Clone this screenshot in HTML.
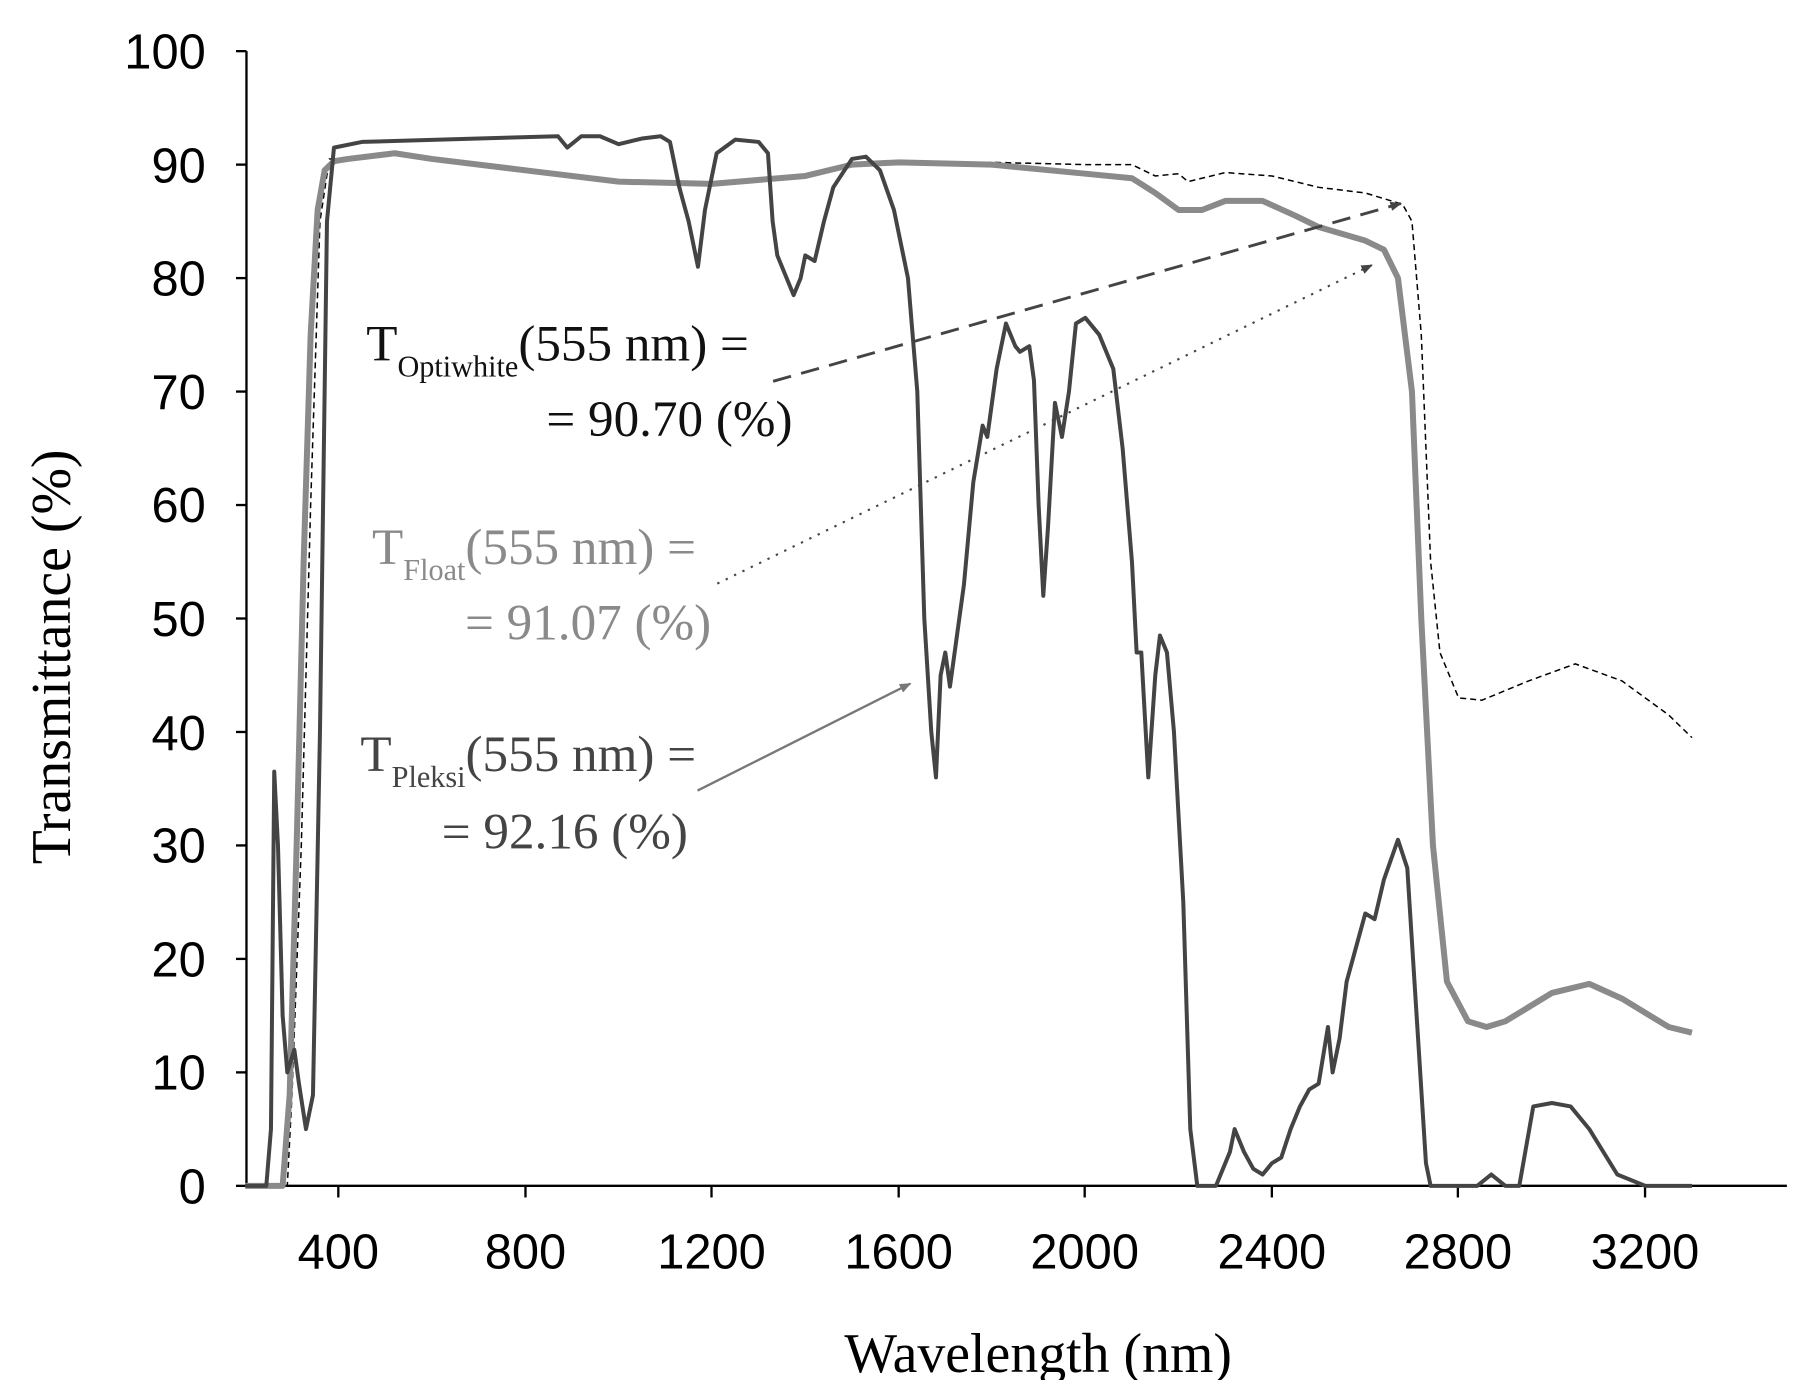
<!DOCTYPE html>
<html><head><style>html,body{margin:0;padding:0;background:#fff}svg{display:block}</style></head><body>
<svg width="1802" height="1380" viewBox="0 0 1550 1187" preserveAspectRatio="none" xmlns="http://www.w3.org/2000/svg">
<defs>
<marker id="ah" markerWidth="10" markerHeight="8" refX="9" refY="4" orient="auto" markerUnits="userSpaceOnUse"><path d="M0,0 L10,4 L0,8 z" fill="#444"/></marker>
<marker id="ah2" markerWidth="10" markerHeight="8" refX="9" refY="4" orient="auto" markerUnits="userSpaceOnUse"><path d="M0,0 L10,4 L0,8 z" fill="#777"/></marker>
</defs>
<g stroke="#000" stroke-width="2" fill="none">
<line x1="212" y1="44" x2="212" y2="1021"/>
<line x1="211" y1="1020" x2="1537" y2="1020"/>
</g>
<g stroke="#000" stroke-width="2">
<line x1="203" y1="44" x2="212" y2="44"/><line x1="203" y1="141.6" x2="212" y2="141.6"/><line x1="203" y1="239.2" x2="212" y2="239.2"/><line x1="203" y1="336.8" x2="212" y2="336.8"/><line x1="203" y1="434.4" x2="212" y2="434.4"/><line x1="203" y1="532" x2="212" y2="532"/><line x1="203" y1="629.6" x2="212" y2="629.6"/><line x1="203" y1="727.2" x2="212" y2="727.2"/><line x1="203" y1="824.8" x2="212" y2="824.8"/><line x1="203" y1="922.4" x2="212" y2="922.4"/><line x1="203" y1="1020" x2="212" y2="1020"/>
<line x1="291" y1="1020" x2="291" y2="1030"/><line x1="452" y1="1020" x2="452" y2="1030"/><line x1="612" y1="1020" x2="612" y2="1030"/><line x1="773" y1="1020" x2="773" y2="1030"/><line x1="933" y1="1020" x2="933" y2="1030"/><line x1="1094" y1="1020" x2="1094" y2="1030"/><line x1="1254" y1="1020" x2="1254" y2="1030"/><line x1="1415" y1="1020" x2="1415" y2="1030"/>
</g>
<g font-family="Liberation Sans, sans-serif" font-size="42" fill="#000" text-anchor="end">
<text x="177" y="59">100</text><text x="177" y="157">90</text><text x="177" y="254">80</text><text x="177" y="352">70</text><text x="177" y="449">60</text><text x="177" y="547">50</text><text x="177" y="645">40</text><text x="177" y="742">30</text><text x="177" y="840">20</text><text x="177" y="937">10</text><text x="177" y="1035">0</text>
</g>
<g font-family="Liberation Sans, sans-serif" font-size="42" fill="#000" text-anchor="middle">
<text x="291" y="1091">400</text><text x="452" y="1091">800</text><text x="612" y="1091">1200</text><text x="773" y="1091">1600</text><text x="933" y="1091">2000</text><text x="1094" y="1091">2400</text><text x="1254" y="1091">2800</text><text x="1415" y="1091">3200</text>
</g>
<text x="893" y="1180" font-family="Liberation Serif, serif" font-size="48" text-anchor="middle">Wavelength (nm)</text>
<text transform="translate(60,565) rotate(-90)" font-family="Liberation Serif, serif" font-size="48" text-anchor="middle">Transmittance (%)</text>

<g transform="translate(211,1020) scale(0.4014,-9.76)" fill="none" stroke-linejoin="round">
<path vector-effect="non-scaling-stroke" stroke="#000" stroke-width="1.5" stroke-dasharray="6,4" d="M0,0 L90,0 L100,8 L120,30 L140,60 L160,85 L180,90.5 L220,90.5 L320,91 L400,90.5 L600,89.5 L800,88.5 L1000,88.3 L1200,89 L1300,90 L1400,90.2 L1600,90.2 L1800,90 L1900,90 L1950,89 L2000,89.2 L2020,88.5 L2100,89.3 L2200,89 L2300,88 L2400,87.5 L2480,86.5 L2500,85 L2520,75 L2540,55 L2560,47 L2600,43 L2650,42.8 L2750,44.5 L2850,46 L2950,44.5 L3050,41.5 L3100,39.5"/>
<path vector-effect="non-scaling-stroke" stroke="#8a8a8a" stroke-width="6" d="M0,0 L80,0 L95,8 L110,30 L125,55 L140,75 L155,86 L170,89.5 L190,90.3 L220,90.5 L320,91 L400,90.5 L600,89.5 L800,88.5 L1000,88.3 L1200,89 L1300,90 L1400,90.2 L1600,90 L1800,89.2 L1900,88.8 L1950,87.5 L2000,86 L2050,86 L2100,86.8 L2180,86.8 L2250,85.5 L2300,84.5 L2400,83.3 L2440,82.5 L2470,80 L2500,70 L2520,50 L2545,30 L2575,18 L2620,14.5 L2660,14 L2700,14.5 L2800,17 L2880,17.8 L2950,16.5 L3050,14 L3100,13.5"/>
<path vector-effect="non-scaling-stroke" stroke="#444" stroke-width="4" d="M0,0 L45,0 L55,5 L62,36.5 L70,30 L80,15 L90,10 L105,12 L115,9 L130,5 L145,8 L160,40 L175,85 L190,91.5 L250,92 L500,92.3 L670,92.5 L690,91.5 L720,92.5 L760,92.5 L800,91.8 L850,92.3 L890,92.5 L910,92 L930,88 L950,85 L970,81 L985,86 L1010,91 L1050,92.2 L1100,92 L1120,91 L1130,85 L1140,82 L1160,80 L1175,78.5 L1190,80 L1200,82 L1220,81.5 L1240,85 L1260,88 L1300,90.5 L1330,90.7 L1360,89.5 L1390,86 L1420,80 L1440,70 L1455,50 L1470,40 L1480,36 L1490,45 L1500,47 L1510,44 L1520,47 L1540,53 L1560,62 L1580,67 L1590,66 L1610,72 L1630,76 L1650,74 L1660,73.5 L1680,74 L1690,71 L1700,60 L1710,52 L1720,58 L1735,69 L1750,66 L1765,70 L1780,76 L1800,76.5 L1830,75 L1860,72 L1880,65 L1900,55 L1910,47 L1920,47 L1935,36 L1950,45 L1960,48.5 L1975,47 L1990,40 L2010,25 L2025,5 L2040,0 L2080,0 L2110,3 L2120,5 L2140,3 L2160,1.5 L2180,1 L2200,2 L2220,2.5 L2240,5 L2260,7 L2280,8.5 L2300,9 L2320,14 L2330,10 L2345,13 L2360,18 L2380,21 L2400,24 L2420,23.5 L2440,27 L2470,30.5 L2490,28 L2510,15 L2530,2 L2540,0 L2640,0 L2670,1 L2700,0 L2730,0 L2760,7 L2800,7.3 L2840,7 L2880,5 L2940,1 L3000,0 L3100,0"/>
</g>

<line x1="665" y1="328" x2="1205" y2="175" stroke="#444" stroke-width="2.5" stroke-dasharray="16,9" marker-end="url(#ah)"/>
<line x1="617" y1="502" x2="1180" y2="228" stroke="#444" stroke-width="1.8" stroke-dasharray="2,6" marker-end="url(#ah)"/>
<line x1="600" y1="680" x2="783" y2="588" stroke="#777" stroke-width="2" marker-end="url(#ah2)"/>

<g font-family="Liberation Serif, serif" font-size="44">
<text x="315" y="310" fill="#111">T<tspan font-size="26" dy="14">Optiwhite</tspan><tspan dy="-14">(555 nm) =</tspan></text>
<text x="470" y="375" fill="#111">= 90.70 (%)</text>
<text x="320" y="485" fill="#8a8a8a">T<tspan font-size="26" dy="14">Float</tspan><tspan dy="-14">(555 nm) =</tspan></text>
<text x="400" y="550" fill="#8a8a8a">= 91.07 (%)</text>
<text x="310" y="663" fill="#444">T<tspan font-size="26" dy="14">Pleksi</tspan><tspan dy="-14">(555 nm) =</tspan></text>
<text x="380" y="730" fill="#444">= 92.16 (%)</text>
</g>
</svg>
</body></html>
